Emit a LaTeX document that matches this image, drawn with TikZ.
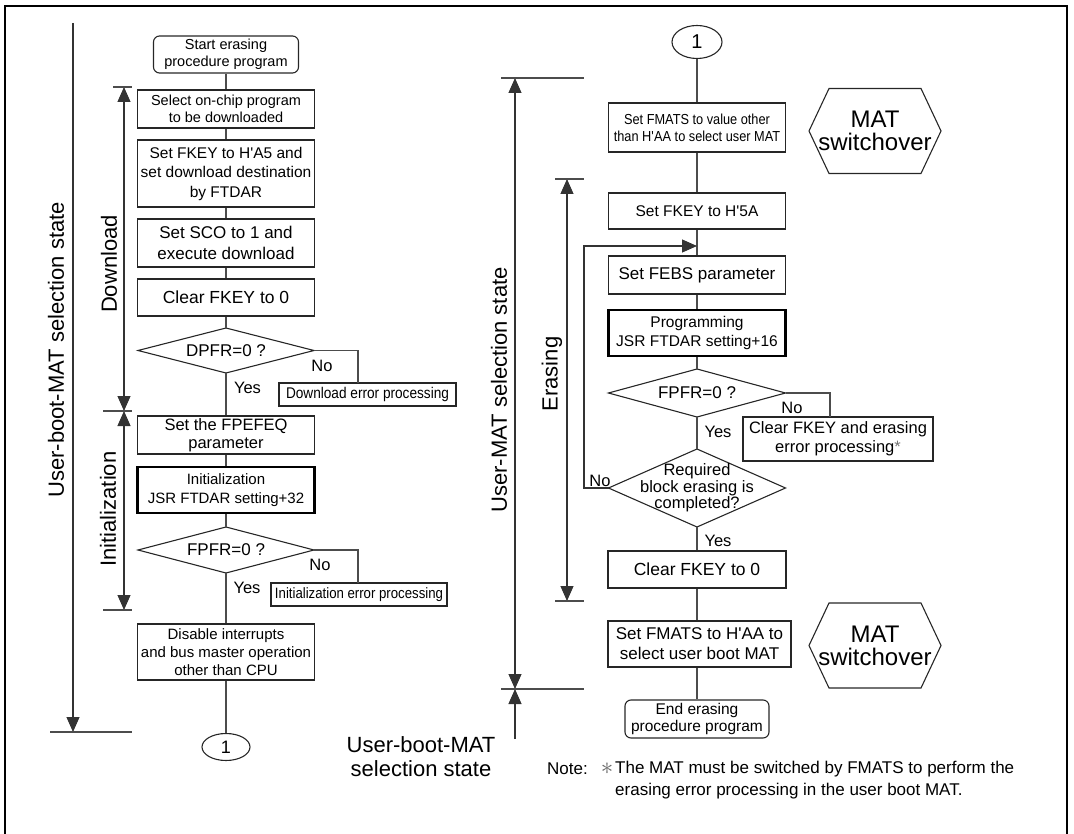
\documentclass[tikz,border=0pt]{standalone}
\usepackage{fontspec}
\setmainfont{Liberation Sans}
\newfontfamily\narrowf[FakeStretch=0.88]{Liberation Sans}
\usetikzlibrary{arrows.meta,shapes.geometric}
\newcommand{\fz}[2]{\fontsize{#1}{#2}\selectfont}
\newcommand{\q}{\textquotesingle}
% diamond: name, cx, cy, half width, half height
\newcommand{\dia}[5]{%
  \coordinate (#1-c) at (#2,#3);
  \coordinate (#1-w) at ({#2-#4},#3);
  \coordinate (#1-e) at ({#2+#4},#3);
  \coordinate (#1-n) at (#2,{#3-#5});
  \coordinate (#1-s) at (#2,{#3+#5});
  \draw[boxline] (#1-w) -- (#1-n) -- (#1-e) -- (#1-s) -- cycle;}
% hexagon with text: name, cx, cy
\newcommand{\hexa}[3]{%
  \node[lbl, font=\fz{24}{23}, align=center] (#1) at (#2,#3) {MAT\\switchover};
  \draw[boxline] (#1.center) ++(-66,0) -- ++(20,-42.5) -- ++(92,0) -- ++(20,42.5)
     -- ++(-20,42.5) -- ++(-92,0) -- cycle;}
\begin{document}
\begin{tikzpicture}[x=1pt,y=-1pt,
  conn/.style={draw=black!70, line width=1.1pt},
  boxline/.style={draw=black!85, line width=1.1pt},
  box/.style={draw=black!85, line width=1.1pt, rectangle, align=center, inner sep=0pt, text=black},
  thickbox/.style={box, line width=2.2pt, draw=black},
  rbox/.style={box, rounded corners=6pt},
  lbl/.style={inner sep=0pt, text=black},
  yn/.style={lbl, font=\fz{16.5}{18}},
  big/.style={lbl, font=\fz{22}{24}},
  tick/.style={draw=black!70, line width=1.1pt},
  arr/.style={-{Triangle[width=13pt,length=15pt]}, draw=black!80, line width=1.1pt},
  darr/.style={{Triangle[width=13pt,length=15pt]}-{Triangle[width=13pt,length=15pt]}, draw=black!80, line width=1.1pt},
]
\useasboundingbox (0,0) rectangle (1074,834);
% frame
\draw[line width=2.5pt] (5,850) -- (5,6) -- (1067,6) -- (1067,850);

% ---------------- left column ----------------
\node[rbox, minimum width=145pt, minimum height=37pt, font=\fz{14.5}{16.5}] (start) at (226,54.5) {Start erasing\\procedure program};
\node[box, minimum width=177pt, minimum height=38pt, font=\fz{14.5}{16.5}] (sel) at (226,109) {Select on-chip program\\to be downloaded};
\node[box, minimum width=177pt, minimum height=67pt, font=\fz{15.5}{19.5}] (fk1) at (226,173.5) {Set FKEY to H\q A5 and\\set download destination\\by FTDAR};
\node[box, minimum width=177pt, minimum height=48pt, font=\fz{17}{21}] (sco) at (226,243) {Set SCO to 1 and\\execute download};
\node[box, minimum width=177pt, minimum height=37pt, font=\fz{17.5}{20}] (clr1) at (226,297.5) {Clear FKEY to 0};
\dia{dpfr}{226}{350.5}{88}{22.5}
\node[lbl, font=\fz{17}{19}] (dpfrt) at (dpfr-c) {DPFR=0 ?};
\node[yn] (no1) at (322,366) {No};
\node[box, minimum width=177pt, minimum height=23pt, font=\narrowf\fz{15.5}{17}] (dlerr) at (367.5,394.5) {Download error processing};
\node[yn] (yes1) at (247.5,388) {Yes};
\node[box, minimum width=177pt, minimum height=38pt, font=\fz{16.5}{18}] (fpefeq) at (226,435) {Set the FPEFEQ\\parameter};
\node[thickbox, minimum width=177pt, minimum height=46pt, font=\fz{15}{19}] (init) at (226,490) {Initialization\\JSR FTDAR setting+32};
\dia{fpfra}{226}{550}{88}{23}
\node[lbl, font=\fz{17}{19}] (fpfrat) at (fpfra-c) {FPFR=0 ?};
\node[yn] (no2) at (320,565) {No};
\node[box, minimum width=176pt, minimum height=23pt, font=\narrowf\fz{15}{17}] (initerr) at (359,594.5) {Initialization error processing};
\node[yn] (yes2) at (247,588) {Yes};
\node[box, minimum width=177pt, minimum height=56pt, font=\fz{15}{18}] (disable) at (226,652) {Disable interrupts\\and bus master operation\\other than CPU};
\node[draw=black!85, line width=1.1pt, ellipse, minimum width=48pt, minimum height=27pt, inner sep=0pt, font=\fz{18}{20}] (c1a) at (226,747) {1};

\coordinate (dlk) at (358,383);
\coordinate (iek) at (358,583);
\draw[conn] (start) -- (sel);
\draw[conn] (sel) -- (fk1);
\draw[conn] (fk1) -- (sco);
\draw[conn] (sco) -- (clr1);
\draw[conn] (clr1) -- (dpfr-n);
\draw[conn] (dpfr-s) -- (fpefeq);
\draw[conn] (fpefeq) -- (init);
\draw[conn] (init) -- (fpfra-n);
\draw[conn] (fpfra-s) -- (disable);
\draw[conn] (disable) -- (c1a);
\draw[conn] (dpfr-e) -| (dlk);
\draw[conn] (fpfra-e) -| (iek);

% left state arrows
\coordinate (lotop) at (73,23);
\coordinate (lobot) at (73,732);
\draw[arr] (lotop) -- (lobot);
\draw[tick] (50,732) -- (132,732);
\coordinate (dltop) at (124,87);
\coordinate (dlbot) at (124,411);
\coordinate (inbot) at (124,610);
\draw[darr] (dltop) -- (dlbot);
\draw[darr] (dlbot) -- (inbot);
\draw[tick] (113,87) -- (132,87);
\draw[tick] (103,411) -- (132,411);
\draw[tick] (103,610) -- (132,610);
\node[big, rotate=90] (lbl-ubm) at (56,350) {User-boot-MAT selection state};
\node[big, rotate=90] (lbl-dl) at (109,264) {Download};
\node[big, rotate=90] (lbl-in) at (108,509) {Initialization};

% ---------------- right column ----------------
\node[draw=black!85, line width=1.1pt, ellipse, minimum width=50pt, minimum height=33pt, inner sep=0pt, font=\fz{20}{22}] (c1b) at (697,42) {1};
\node[box, minimum width=177pt, minimum height=49pt, font=\narrowf\fz{14.5}{17}] (fm1) at (697,127.5) {Set FMATS to value other\\than H\q AA to select user MAT};
\hexa{hexa}{875}{131}
\node[box, minimum width=177pt, minimum height=36pt, font=\fz{15.5}{18}] (fk2) at (697,211) {Set FKEY to H\q 5A};
\node[box, minimum width=177pt, minimum height=38pt, font=\fz{17}{19}] (febs) at (697,275) {Set FEBS parameter};
\node[thickbox, minimum width=177pt, minimum height=46pt, font=\fz{15.5}{19}] (prog) at (697,333) {Programming\\JSR FTDAR setting+16};
\dia{fpfrb}{697}{393}{88.5}{24}
\node[lbl, font=\fz{17}{19}] (fpfrbt) at (fpfrb-c) {FPFR=0 ?};
\node[yn] (no3) at (792,408) {No};
\node[box, minimum width=190pt, minimum height=44pt, font=\fz{16.5}{19}] (clrerr) at (838,439) {Clear FKEY and erasing\\error processing\textcolor{black!55}{*}};
\node[yn] (yes3) at (718,432) {Yes};
\dia{req}{697}{488}{88.5}{39}
\node[lbl, font=\fz{16.5}{16.5}, align=center] (reqt) at (req-c) {Required\\block erasing is\\completed?};
\node[yn] (no4) at (600,481) {No};
\node[yn] (yes4) at (718,541) {Yes};
\node[box, minimum width=178pt, minimum height=37pt, font=\fz{17.5}{20}] (clr2) at (697,569.5) {Clear FKEY to 0};
\node[box, minimum width=183pt, minimum height=46pt, font=\fz{17}{20}] (fm2) at (699.5,644) {Set FMATS to H\q AA to\\select user boot MAT};
\hexa{hexb}{875}{645.5}
\node[rbox, minimum width=144pt, minimum height=38pt, font=\fz{15.5}{17}] (end) at (697,719) {End erasing\\procedure program};

\coordinate (cek) at (830,417);
\coordinate (lp2) at (584,246);
\coordinate (lp3) at (697,246);
\draw[conn] (c1b) -- (fm1);
\draw[conn] (fm1) -- (fk2);
\draw[conn] (fk2) -- (febs);
\draw[conn] (febs) -- (prog);
\draw[conn] (prog) -- (fpfrb-n);
\draw[conn] (fpfrb-s) -- (req-n);
\draw[conn] (req-s) -- (clr2);
\draw[conn] (clr2.south) -- (clr2.south |- fm2.north);
\draw[conn] (end.north |- fm2.south) -- (end.north);
\draw[conn] (fpfrb-e) -| (cek);
\draw[arr] (req-w) -| (lp2) -- (lp3);

% right state arrows
\coordinate (rotop) at (515,78);
\coordinate (robot) at (515,689);
\coordinate (rolow) at (515,739);
\draw[darr] (rotop) -- (robot);
\draw[arr] (rolow) -- (robot);
\draw[tick] (501,78) -- (584,78);
\draw[tick] (501,689) -- (584,689);
\coordinate (ertop) at (567,179);
\coordinate (erbot) at (567,601);
\draw[darr] (ertop) -- (erbot);
\draw[tick] (555,179) -- (584,179);
\draw[tick] (555,601) -- (584,601);
\node[big, rotate=90] (lbl-um) at (499,390) {User-MAT selection state};
\node[big, rotate=90] (lbl-er) at (552,374) {Erasing};
\node[big, align=center] (lbl-ubm2) at (421,757) {User-boot-MAT\\selection state};

% note
\node[lbl, anchor=west, font=\fz{17}{22}] (note) at (547,769) {Note:};
\node[lbl, font=\fz{24}{24}, text=black!60] (ast) at (607,769) {$\ast$};
\node[lbl, anchor=west, align=left, font=\fz{17}{22}] (notetxt) at (615,780) {The MAT must be switched by FMATS to perform the\\erasing error processing in the user boot MAT.};
\end{tikzpicture}
\end{document}
